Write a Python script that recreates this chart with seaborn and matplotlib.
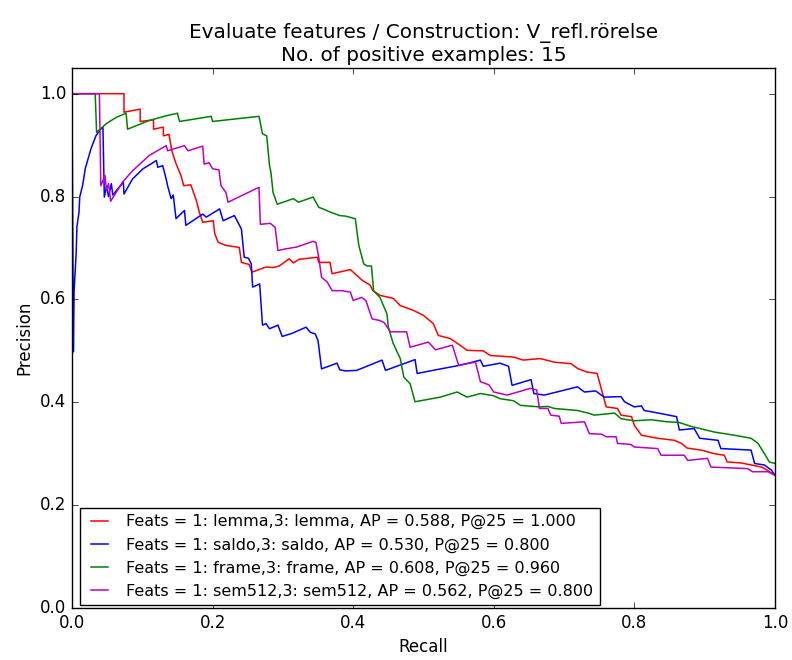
import matplotlib

matplotlib.use("Agg")

import matplotlib.pyplot as plt
import pandas as pd
import seaborn as sns


TITLE = "Evaluate features / Construction: V_refl.rörelse\nNo. of positive examples: 15"

LABELS = [
    "Feats = 1: lemma,3: lemma, AP = 0.588, P@25 = 1.000",
    "Feats = 1: saldo,3: saldo, AP = 0.530, P@25 = 0.800",
    "Feats = 1: frame,3: frame, AP = 0.608, P@25 = 0.960",
    "Feats = 1: sem512,3: sem512, AP = 0.562, P@25 = 0.800",
]
COLORS = ["#ff0000", "#0000ff", "#008000", "#bf00bf"]

# values
lemma_recall = [
    0.0, 0.074, 0.074, 0.097, 0.097, 0.116, 0.116, 0.130, 0.130, 0.138,
    0.142, 0.148, 0.155, 0.159, 0.169, 0.177, 0.181, 0.186, 0.201, 0.203,
    0.208, 0.219, 0.238, 0.241, 0.252, 0.256, 0.266, 0.276, 0.286, 0.295,
    0.309, 0.315, 0.323, 0.349, 0.351, 0.367, 0.370, 0.396, 0.413, 0.424,
    0.428, 0.438, 0.457, 0.467, 0.485, 0.500, 0.514, 0.521, 0.538, 0.552,
    0.562, 0.585, 0.595, 0.628, 0.642, 0.666, 0.686, 0.710, 0.719, 0.732,
    0.747, 0.760, 0.776, 0.781, 0.796, 0.800, 0.810, 0.833, 0.857, 0.867,
    0.875, 0.895, 0.914, 0.928, 0.932, 0.952, 0.981, 0.989, 1.0,
]
lemma_precision = [
    1.0, 1.0, 0.964, 0.970, 0.946, 0.949, 0.931, 0.935, 0.918, 0.921,
    0.889, 0.864, 0.841, 0.821, 0.823, 0.792, 0.770, 0.750, 0.753, 0.728,
    0.711, 0.705, 0.701, 0.672, 0.668, 0.653, 0.658, 0.663, 0.662, 0.665,
    0.679, 0.671, 0.678, 0.682, 0.672, 0.672, 0.650, 0.658, 0.637, 0.628,
    0.617, 0.608, 0.602, 0.588, 0.579, 0.569, 0.553, 0.530, 0.524, 0.511,
    0.501, 0.500, 0.491, 0.488, 0.482, 0.485, 0.478, 0.475, 0.466, 0.459,
    0.456, 0.391, 0.388, 0.375, 0.372, 0.355, 0.336, 0.330, 0.326, 0.320,
    0.311, 0.307, 0.300, 0.297, 0.284, 0.282, 0.274, 0.268, 0.258,
]

saldo_recall = [
    0.0, 0.002, 0.003, 0.006, 0.007, 0.010, 0.011, 0.015, 0.019, 0.027,
    0.034, 0.040, 0.044, 0.046, 0.049, 0.052, 0.056, 0.058, 0.073, 0.074,
    0.086, 0.101, 0.120, 0.122, 0.129, 0.134, 0.136, 0.141, 0.144, 0.148,
    0.160, 0.162, 0.186, 0.191, 0.210, 0.215, 0.231, 0.236, 0.241, 0.245,
    0.251, 0.255, 0.257, 0.267, 0.271, 0.276, 0.281, 0.293, 0.299, 0.313,
    0.333, 0.339, 0.346, 0.350, 0.355, 0.377, 0.381, 0.389, 0.405, 0.441,
    0.446, 0.488, 0.491, 0.517, 0.552, 0.581, 0.585, 0.609, 0.621, 0.626,
    0.653, 0.657, 0.672, 0.719, 0.729, 0.745, 0.757, 0.781, 0.786, 0.800,
    0.810, 0.814, 0.838, 0.860, 0.864, 0.885, 0.893, 0.919, 0.923, 0.966,
    0.971, 0.985, 0.995, 1.0,
]
saldo_precision = [
    1.0, 0.498, 0.617, 0.692, 0.741, 0.770, 0.799, 0.821, 0.855, 0.893,
    0.918, 0.930, 0.935, 0.799, 0.820, 0.800, 0.825, 0.803, 0.828, 0.805,
    0.834, 0.854, 0.870, 0.857, 0.860, 0.834, 0.821, 0.796, 0.803, 0.757,
    0.773, 0.744, 0.766, 0.760, 0.776, 0.753, 0.763, 0.750, 0.737, 0.682,
    0.680, 0.669, 0.624, 0.630, 0.550, 0.553, 0.543, 0.550, 0.528, 0.534,
    0.546, 0.536, 0.533, 0.520, 0.465, 0.476, 0.463, 0.461, 0.462, 0.482,
    0.462, 0.483, 0.456, 0.463, 0.472, 0.482, 0.470, 0.476, 0.470, 0.433,
    0.444, 0.417, 0.414, 0.430, 0.420, 0.422, 0.410, 0.411, 0.401, 0.391,
    0.393, 0.384, 0.378, 0.372, 0.346, 0.349, 0.330, 0.326, 0.310, 0.307,
    0.281, 0.278, 0.268, 0.258,
]

frame_recall = [
    0.0, 0.033, 0.035, 0.045, 0.048, 0.063, 0.077, 0.079, 0.110, 0.134,
    0.150, 0.153, 0.198, 0.200, 0.266, 0.271, 0.277, 0.281, 0.283, 0.286,
    0.292, 0.315, 0.322, 0.343, 0.351, 0.357, 0.367, 0.381, 0.389, 0.403,
    0.408, 0.415, 0.420, 0.426, 0.429, 0.438, 0.448, 0.450, 0.457, 0.467,
    0.472, 0.481, 0.488, 0.524, 0.548, 0.562, 0.581, 0.599, 0.609, 0.628,
    0.638, 0.666, 0.677, 0.686, 0.719, 0.734, 0.743, 0.772, 0.781, 0.800,
    0.824, 0.847, 0.863, 0.881, 0.914, 0.942, 0.966, 0.976, 0.985, 0.992,
    1.0,
]
frame_precision = [
    1.0, 1.0, 0.925, 0.937, 0.941, 0.954, 0.962, 0.931, 0.948, 0.957,
    0.962, 0.946, 0.956, 0.946, 0.956, 0.922, 0.918, 0.860, 0.847, 0.808,
    0.785, 0.796, 0.789, 0.799, 0.779, 0.776, 0.770, 0.763, 0.762, 0.757,
    0.705, 0.669, 0.665, 0.665, 0.617, 0.604, 0.572, 0.546, 0.514, 0.485,
    0.449, 0.436, 0.401, 0.410, 0.420, 0.410, 0.417, 0.413, 0.407, 0.403,
    0.394, 0.391, 0.392, 0.388, 0.384, 0.379, 0.375, 0.379, 0.368, 0.364,
    0.366, 0.362, 0.361, 0.353, 0.342, 0.336, 0.330, 0.320, 0.300, 0.284,
    0.281,
]

sem512_recall = [
    0.0, 0.039, 0.041, 0.047, 0.049, 0.052, 0.055, 0.072, 0.086, 0.110,
    0.134, 0.136, 0.160, 0.165, 0.186, 0.188, 0.195, 0.200, 0.209, 0.212,
    0.219, 0.222, 0.266, 0.268, 0.282, 0.289, 0.293, 0.303, 0.320, 0.343,
    0.347, 0.351, 0.355, 0.363, 0.370, 0.384, 0.396, 0.400, 0.412, 0.418,
    0.427, 0.438, 0.444, 0.453, 0.476, 0.481, 0.507, 0.517, 0.541, 0.550,
    0.574, 0.581, 0.593, 0.600, 0.619, 0.652, 0.661, 0.665, 0.677, 0.681,
    0.693, 0.696, 0.729, 0.736, 0.753, 0.760, 0.774, 0.776, 0.795, 0.800,
    0.833, 0.838, 0.871, 0.876, 0.904, 0.909, 0.961, 0.968, 0.990, 1.0,
]
sem512_precision = [
    1.0, 1.0, 0.821, 0.841, 0.812, 0.825, 0.791, 0.828, 0.850, 0.880,
    0.899, 0.889, 0.899, 0.889, 0.898, 0.863, 0.866, 0.854, 0.852, 0.821,
    0.808, 0.789, 0.818, 0.746, 0.748, 0.740, 0.695, 0.698, 0.702, 0.713,
    0.711, 0.682, 0.643, 0.634, 0.617, 0.617, 0.614, 0.598, 0.604, 0.598,
    0.562, 0.559, 0.555, 0.537, 0.537, 0.507, 0.517, 0.502, 0.511, 0.472,
    0.478, 0.440, 0.434, 0.420, 0.414, 0.427, 0.424, 0.388, 0.388, 0.375,
    0.373, 0.359, 0.362, 0.339, 0.338, 0.333, 0.333, 0.320, 0.318, 0.313,
    0.310, 0.297, 0.297, 0.287, 0.291, 0.274, 0.271, 0.265, 0.265, 0.258,
]


def build_frame() -> pd.DataFrame:
    """
    Stack the four precision-recall curves into one long table.
    """
    curves = [
        (lemma_recall, lemma_precision),
        (saldo_recall, saldo_precision),
        (frame_recall, frame_precision),
        (sem512_recall, sem512_precision),
    ]
    parts = []
    for label, (recall, precision) in zip(LABELS, curves):
        parts.append(
            pd.DataFrame({"recall": recall, "precision": precision, "feats": label})
        )
    return pd.concat(parts, ignore_index=True)


if __name__ == "__main__":
    plt.style.use("classic")
    plt.rcParams["font.family"] = ["DejaVu Sans"]

    data = build_frame()

    fig = plt.figure(figsize=(7.92, 6.6), dpi=100, facecolor="white")
    ax = fig.add_axes([0.0909, 0.0788, 0.8876, 0.8182])

    sns.lineplot(
        data=data,
        x="recall",
        y="precision",
        hue="feats",
        hue_order=LABELS,
        palette=COLORS,
        sort=False,
        estimator=None,
        linewidth=1.1,
        ax=ax,
    )

    ax.set_xlim(0.0, 1.0)
    ax.set_ylim(0.0, 1.05)
    ax.set_xticks([0.0, 0.2, 0.4, 0.6, 0.8, 1.0])
    ax.set_yticks([0.0, 0.2, 0.4, 0.6, 0.8, 1.0])
    ax.set_xlabel("Recall", fontsize=12)
    ax.set_ylabel("Precision", fontsize=12)
    ax.set_title(TITLE, fontsize=14.4)

    handles, labels = ax.get_legend_handles_labels()
    ax.legend(
        handles,
        labels,
        loc="lower left",
        bbox_to_anchor=(0.011, 0.005),
        borderaxespad=0.0,
        fontsize=11.5,
        handlelength=1.7,
        fancybox=False,
    )

    fig.savefig("out.png", dpi=100, facecolor="white")
    plt.close(fig)
